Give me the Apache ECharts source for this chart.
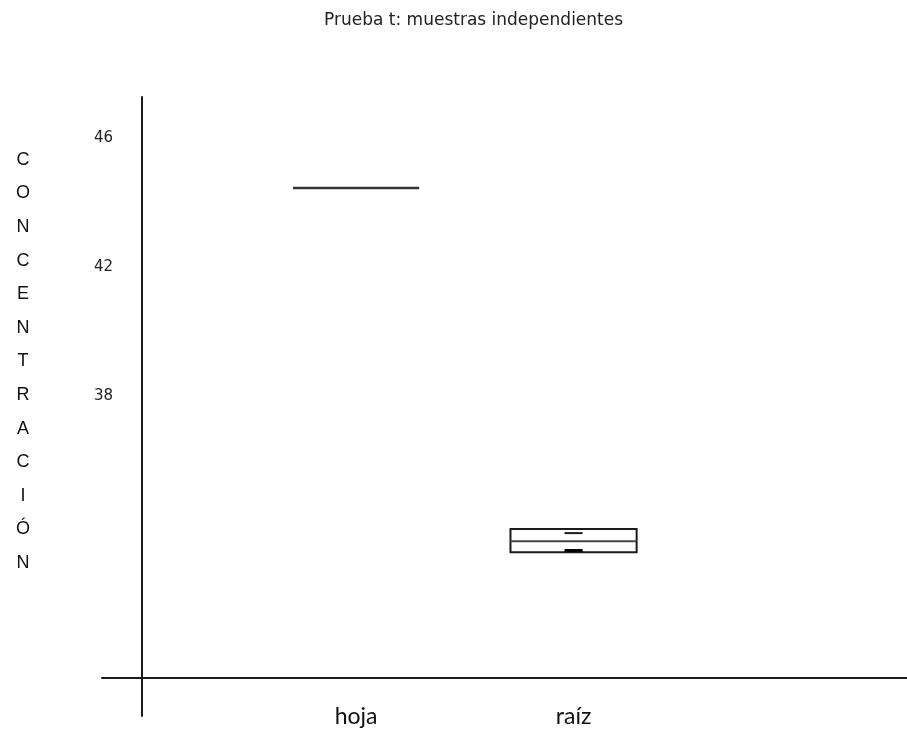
<!DOCTYPE html>
<html>
<head>
<meta charset="utf-8">
<script src="https://cdn.jsdelivr.net/npm/echarts@6/dist/echarts.min.js"></script>
<style>
  html, body { margin: 0; padding: 0; background: #fff; }
  #chart { width: 907px; height: 731px; }
</style>
</head>
<body>
<div id="chart"></div>
<script>
// Groups and their summary values (concentración)
const categories = ['hoja', 'raíz'];
const q1Values = [44.42, 33.13];
const medianValues = [44.42, 33.47];
const q3Values = [44.42, 33.85];
const lowerCaps = [44.42, 33.18];
const upperCaps = [44.42, 33.72];
const yTickValues = [38, 42, 46];
const yAxisTitle = 'CONCENTRACIÓN';

const BOX_W = 0.58;   // box width in x-axis units
const CAP_W = 0.083;  // inner mark width in x-axis units
const INK = '#1a1a1a';

const boxData = categories.map((c, i) => [i + 1, q1Values[i], medianValues[i], q3Values[i], lowerCaps[i], upperCaps[i]]);

function renderBox(params, api) {
  const x = api.value(0);
  const pQ1 = api.coord([x, api.value(1)]);
  const pMed = api.coord([x, api.value(2)]);
  const pQ3 = api.coord([x, api.value(3)]);
  const pLo = api.coord([x, api.value(4)]);
  const pHi = api.coord([x, api.value(5)]);
  const half = api.size([BOX_W, 0])[0] / 2;
  const capHalf = api.size([CAP_W, 0])[0] / 2;
  const cx = pMed[0];
  const children = [];
  if (Math.abs(pQ1[1] - pQ3[1]) < 0.5) {
    children.push({
      type: 'line',
      shape: { x1: cx - half, y1: pMed[1], x2: cx + half, y2: pMed[1] },
      style: { stroke: '#333', lineWidth: 2.5 }
    });
  } else {
    children.push({
      type: 'rect',
      shape: { x: cx - half, y: pQ3[1], width: half * 2, height: pQ1[1] - pQ3[1] },
      style: { fill: 'none', stroke: INK, lineWidth: 2 }
    });
    children.push({
      type: 'line',
      shape: { x1: cx - half, y1: pMed[1], x2: cx + half, y2: pMed[1] },
      style: { stroke: '#444', lineWidth: 2 }
    });
    children.push({
      type: 'line',
      shape: { x1: cx - capHalf, y1: pHi[1], x2: cx + capHalf, y2: pHi[1] },
      style: { stroke: INK, lineWidth: 2 }
    });
    children.push({
      type: 'line',
      shape: { x1: cx - capHalf, y1: pLo[1], x2: cx + capHalf, y2: pLo[1] },
      style: { stroke: '#000', lineWidth: 3 }
    });
  }
  return { type: 'group', children };
}

const chart = echarts.init(document.getElementById('chart'), null, { renderer: 'canvas' });
chart.setOption({
  animation: false,
  backgroundColor: '#ffffff',
  title: {
    text: 'Prueba t: muestras independientes',
    left: 324,
    top: 12,
    padding: 0,
    textStyle: { fontFamily: 'DejaVu Sans', fontSize: 17, fontWeight: 'normal', color: '#222' }
  },
  graphic: [{
    type: 'text',
    x: 23,
    y: 143,
    style: {
      text: yAxisTitle.split('').join('\n'),
      textAlign: 'center',
      lineHeight: 33.6,
      font: '18px "Liberation Sans"',
      fill: '#111'
    }
  }],
  grid: { left: 102, right: 0, top: 97, bottom: 15 },
  xAxis: {
    type: 'value',
    min: -0.168,
    max: 3.533,
    offset: -38,
    splitLine: { show: false },
    axisTick: { show: false },
    axisLine: { show: true, lineStyle: { color: INK, width: 2 } },
    axisLabel: {
      customValues: categories.map((c, i) => i + 1),
      formatter: v => categories[Math.round(v) - 1] || '',
      margin: 27,
      fontFamily: 'Lato',
      fontSize: 23,
      color: '#111'
    }
  },
  yAxis: {
    type: 'value',
    min: 28.05,
    max: 47.24,
    offset: -40,
    splitLine: { show: false },
    axisTick: { show: false },
    axisLine: { show: true, lineStyle: { color: INK, width: 2 } },
    axisLabel: {
      customValues: yTickValues,
      margin: 29,
      verticalAlign: 'top',
      padding: [-6, 0, 0, 0],
      fontFamily: 'DejaVu Sans',
      fontSize: 15,
      color: '#222'
    }
  },
  series: [{
    type: 'custom',
    renderItem: renderBox,
    data: boxData,
    encode: { x: 0, y: [1, 2, 3, 4, 5] },
    clip: false
  }]
});
</script>
</body>
</html>
